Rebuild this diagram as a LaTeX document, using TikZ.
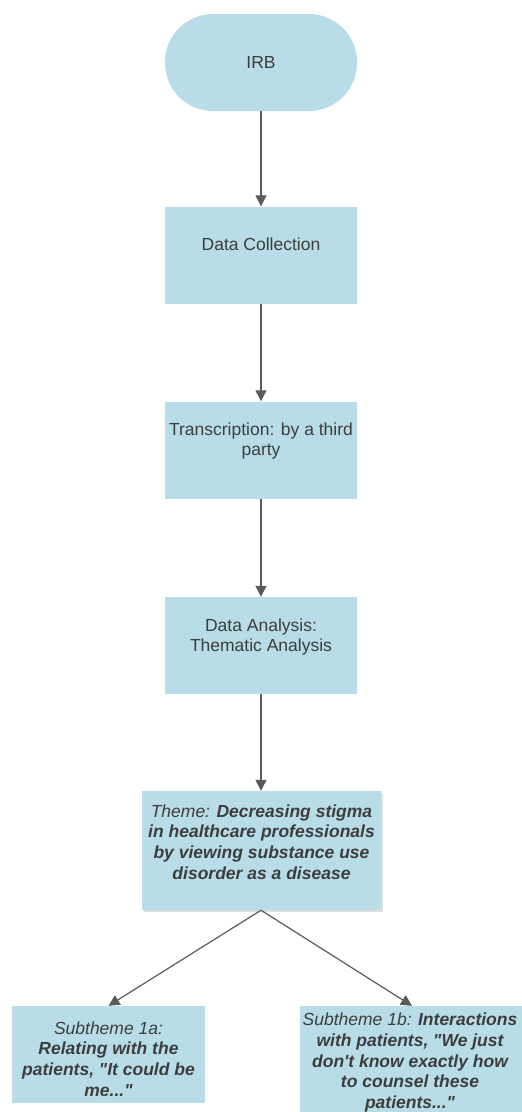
\documentclass[tikz,border=0pt]{standalone}
\usepackage{fontspec}
\setmainfont{Liberation Sans}[Ligatures=TeXOff]
\usetikzlibrary{arrows.meta,shadows,positioning}
\definecolor{boxblue}{HTML}{B8DDE8}
\definecolor{inkgray}{HTML}{3D3D3D}
\definecolor{arrowgray}{HTML}{5A5A5A}
\begin{document}
\begin{tikzpicture}[x=1pt,y=1pt,
  box/.style={fill=boxblue, minimum width=192pt, minimum height=97pt, inner sep=0pt},
  txt/.style={text=inkgray, align=center, inner sep=0pt, font=\fontsize{17.5}{20.7}\selectfont},
  flow/.style={draw=arrowgray, line width=1.2pt, -{Triangle[width=11pt,length=11pt]}}]
  \useasboundingbox (0,0) rectangle (522,-1112);

  % Process boxes
  \node[box, rounded corners=48pt] (irb) at (261,-62.5) {};
  \node[box] (collect) at (261,-255) {};
  \node[box] (transcribe) at (261,-450) {};
  \node[box] (analysis) at (261,-645.5) {};
  \node[box, minimum width=239pt, minimum height=119pt,
    drop shadow={opacity=0.25, shadow xshift=2pt, shadow yshift=-2pt}] (theme) at (261,-850.5) {};
  \node[box, minimum width=193pt] (subA) at (108.5,-1054.5) {};
  \node[box, minimum width=224pt, minimum height=110pt] (subB) at (412,-1061) {};

  % Labels
  \node[txt] (irbtxt) at (261,-62.5) {IRB};
  \node[txt] (collecttxt) at (261,-244) {Data Collection};
  \node[txt] (transcribetxt) at (261,-441) {Transcription: by a third\\party};
  \node[txt] (analysistxt) at (261,-637) {Data Analysis:\\Thematic Analysis};
  \node[txt] (themetxt) at (261.5,-842) {\itshape Theme: {\bfseries Decreasing stigma}\\
    {\bfseries\itshape in healthcare professionals}\\
    {\bfseries\itshape by viewing substance use}\\
    {\bfseries\itshape disorder as a disease}};
  \node[txt] (subAtxt) at (108.5,-1059) {\itshape Subtheme 1a:\\
    {\bfseries\itshape Relating with the}\\
    {\bfseries\itshape patients, "It could be}\\
    {\bfseries\itshape me..."}};
  \node[txt] (subBtxt) at (410,-1062.5) {\itshape Subtheme 1b: {\bfseries Interactions}\\
    {\bfseries\itshape with patients, "We just}\\
    {\bfseries\itshape don't know exactly how}\\
    {\bfseries\itshape to counsel these}\\
    {\bfseries\itshape patients..."}};

  % Connectors
  \draw[flow] (irb) -- (collect);
  \draw[flow] (collect) -- (transcribe);
  \draw[flow] (transcribe) -- (analysis);
  \draw[flow] (analysis) -- (theme);
  \draw[flow] (theme.south) -- (subA.north);
  \draw[flow] (theme.south) -- (subB.north);
\end{tikzpicture}
\end{document}
